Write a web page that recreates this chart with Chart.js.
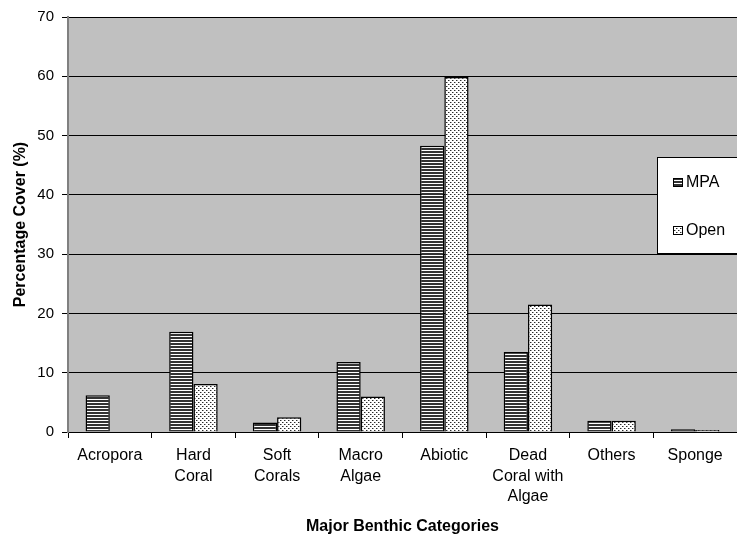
<!DOCTYPE html>
<html>
<head>
<meta charset="utf-8">
<script src="https://cdn.jsdelivr.net/npm/chart.js@4"></script>
<style>
  html, body { margin: 0; padding: 0; background: #fff; overflow: hidden; }
  canvas { display: block; }
</style>
</head>
<body>
<canvas id="c" width="737" height="540"></canvas>
<script>
// Benthic cover by category, MPA vs open sites
const categories = [
  'Acropora', ['Hard', 'Coral'], ['Soft', 'Corals'], ['Macro', 'Algae'],
  'Abiotic', ['Dead', 'Coral with', 'Algae'], 'Others', 'Sponge'
];
const mpaValues  = [6.2, 16.9, 1.6, 11.8, 48.3, 13.5, 1.9, 0.45];
const openValues = [0.1, 8.1, 2.5, 6.0, 59.9, 21.5, 1.9, 0.35];
const seriesNames = ['MPA', 'Open'];
const yTicks = [0, 10, 20, 30, 40, 50, 60, 70];

const FONT = '"Liberation Sans", Arial, sans-serif';

// Horizontal stripe fill
function stripePattern() {
  const c = document.createElement('canvas');
  c.width = 4; c.height = 3;
  const g = c.getContext('2d');
  g.fillStyle = '#ffffff'; g.fillRect(0, 0, 4, 3);
  g.fillStyle = '#333333'; g.fillRect(0, 1, 4, 2);
  return g.createPattern(c, 'repeat');
}
// Fine dotted fill
function dotPattern() {
  const c = document.createElement('canvas');
  c.width = 4; c.height = 4;
  const g = c.getContext('2d');
  g.fillStyle = '#ffffff'; g.fillRect(0, 0, 4, 4);
  g.fillStyle = '#2a2a2a';
  g.fillRect(0, 0, 1, 1);
  g.fillRect(2, 2, 1, 1);
  g.fillStyle = '#a0a0a0';
  g.fillRect(1, 0, 1, 1);
  g.fillRect(3, 2, 1, 1);
  return g.createPattern(c, 'repeat');
}

const fills = [stripePattern(), dotPattern()];

// Grey plot background
const plotBackground = {
  id: 'plotBackground',
  beforeDraw(chart) {
    const { ctx, chartArea: a } = chart;
    ctx.save();
    ctx.fillStyle = '#c0c0c0';
    ctx.fillRect(a.left, a.top, a.right - a.left, a.bottom - a.top);
    ctx.restore();
  }
};

// Boxed legend at the right edge
const boxLegend = {
  id: 'boxLegend',
  afterDraw(chart) {
    const { ctx } = chart;
    const x = 657, y = 157, w = 90, h = 96;
    ctx.save();
    ctx.fillStyle = '#ffffff';
    ctx.fillRect(x, y, w, h);
    ctx.strokeStyle = '#000';
    ctx.lineWidth = 1;
    ctx.strokeRect(x + 0.5, y + 0.5, w, h);
    ctx.font = '16px ' + FONT;
    ctx.textBaseline = 'middle';
    chart.data.datasets.forEach((ds, i) => {
      const cy = y + 25 + i * 48;
      ctx.fillStyle = ds.backgroundColor;
      ctx.fillRect(673, cy - 4, 10, 9);
      ctx.strokeStyle = '#000';
      ctx.strokeRect(673.5, cy - 3.5, 9, 8);
      ctx.fillStyle = '#000';
      ctx.fillText(ds.label, 686, cy + 1);
    });
    ctx.restore();
  }
};

new Chart(document.getElementById('c'), {
  type: 'bar',
  data: {
    labels: categories,
    datasets: [
      { label: seriesNames[0], data: mpaValues, backgroundColor: fills[0],
        borderColor: '#000', borderWidth: 1.5, categoryPercentage: 0.58, barPercentage: 1.0 },
      { label: seriesNames[1], data: openValues, backgroundColor: fills[1],
        borderColor: '#000', borderWidth: 1.5, categoryPercentage: 0.58, barPercentage: 1.0 }
    ]
  },
  options: {
    responsive: false,
    animation: false,
    // the plot runs slightly past the right edge of the canvas
    layout: { padding: { top: 17, left: 0, right: -9, bottom: 0 } },
    plugins: {
      legend: { display: false },
      tooltip: { enabled: false }
    },
    scales: {
      x: {
        afterFit(scale) { scale.height = 108; },
        grid: { offset: true, drawOnChartArea: false, color: '#000', tickLength: 6 },
        border: { color: '#000', width: 1 },
        ticks: { color: '#000', font: { family: FONT, size: 16, lineHeight: 1.3 },
                 maxRotation: 0, autoSkip: false, padding: 7 },
        title: { display: true, text: 'Major Benthic Categories', color: '#000',
                 font: { family: FONT, size: 16, weight: 'bold' }, padding: { top: 4, bottom: 4 } }
      },
      y: {
        min: yTicks[0], max: yTicks[yTicks.length - 1],
        afterBuildTicks(scale) { scale.ticks = yTicks.map(v => ({ value: v })); },
        afterFit(scale) { scale.width = 68; },
        grid: { color: '#000', tickLength: 6, lineWidth: 1 },
        border: { color: '#808080', width: 2 },
        ticks: { color: '#000', font: { family: FONT, size: 15 }, padding: 8 },
        title: { display: true, text: 'Percentage Cover (%)', color: '#000',
                 font: { family: FONT, size: 16, weight: 'bold' }, padding: { top: 11, bottom: 11 } }
      }
    }
  },
  plugins: [plotBackground, boxLegend]
});
</script>
</body>
</html>
